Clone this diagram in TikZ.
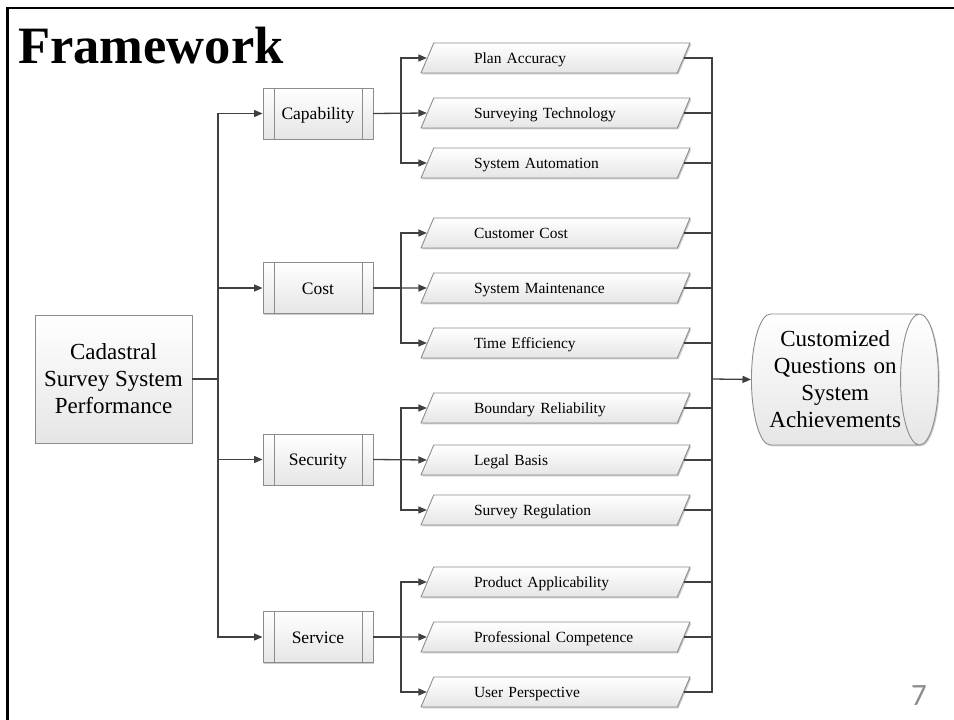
\documentclass[tikz,border=0pt]{standalone}
\usepackage{fontspec}
\setmainfont{Liberation Serif}
\newfontfamily\numfont{Carlito}
\usetikzlibrary{shapes.geometric,arrows.meta,shadows}

\definecolor{wire}{HTML}{404040}
\definecolor{rim}{HTML}{8C8C8C}
\definecolor{pagenum}{HTML}{8C8C8C}

% a centred line of fixed nominal width (longer text overhangs evenly)
\newcommand{\goalline}[1]{\makebox[100pt][c]{#1}}

\begin{document}
\begin{tikzpicture}[x=1pt,y=-1pt,
  shaded/.style={draw=rim, line width=0.9pt, top color=white, bottom color=black!10,
    drop shadow={shadow xshift=1.3pt, shadow yshift=-1.3pt, opacity=0.2, fill=black}},
  rootbox/.style={shaded, minimum width=157, minimum height=128, inner sep=0,
    align=center, font=\fontsize{23}{27}\selectfont},
  groupbox/.style={shaded, minimum width=110, minimum height=51, inner sep=0,
    text height=14, text depth=1.6, font=\fontsize{17.5}{20}\selectfont},
  itembox/.style={shaded, shape=trapezium, trapezium left angle=67, trapezium right angle=113,
    trapezium stretches body, minimum width=269, inner xsep=0, inner ysep=7.5,
    text height=12.5, text depth=2.5,
    text width=163, align=left, font=\fontsize{15.5}{18}\selectfont},
  goalbox/.style={shaded, shape=cylinder, shape border rotate=0, aspect=0.39,
    minimum width=131, minimum height=187, inner sep=0, text width=100, align=center,
    font=\fontsize{23}{27}\selectfont},
  wireline/.style={draw=wire, line width=1.3pt},
  arrowline/.style={wireline, -{Triangle[length=8.5pt,width=7pt]}},
]
\useasboundingbox (0,0) rectangle (954,720);

% slide frame and title
\draw[line width=2.6pt] (7.3,720) -- (7.3,8) -- (954,8);
\node[anchor=base west, inner sep=0, font=\fontsize{52.5}{60}\selectfont\bfseries]
  (title) at (18,63) {Framework};
\node[anchor=base west, inner sep=0, text=pagenum, font=\numfont\fontsize{31}{36}\selectfont]
  (pageno) at (911,705) {7};

% root and goal
\node[rootbox] (main) at (113.5,379) {Cadastral\\Survey System\\Performance};
\node[goalbox, anchor=west] (goal) at (751,379.5)
  {\goalline{Customized}\\\goalline{Questions on}\\\goalline{System}\\\goalline{Achievements}};

% the four groups
\node[groupbox] (cap)  at (318,113.5) {Capability};
\node[groupbox] (cost) at (318,288)   {Cost};
\node[groupbox] (sec)  at (318,459.5) {Security};
\node[groupbox] (srv)  at (318,637)   {Service};
\foreach \g in {cap,cost,sec,srv}{
  \draw[draw=rim, line width=0.9pt] ([xshift=12pt]\g.north west) -- ([xshift=12pt]\g.south west);
  \draw[draw=rim, line width=0.9pt] ([xshift=-11pt]\g.north east) -- ([xshift=-11pt]\g.south east);
}

% indicators
\node[itembox] (pa)  at (555.5,58)  {Plan Accuracy};
\node[itembox] (st)  at (555.5,113) {Surveying Technology};
\node[itembox] (sa)  at (555.5,163) {System Automation};
\node[itembox] (cc)  at (555.5,233) {Customer Cost};
\node[itembox] (sm)  at (555.5,288) {System Maintenance};
\node[itembox] (te)  at (555.5,343) {Time Efficiency};
\node[itembox] (br)  at (555.5,408) {Boundary Reliability};
\node[itembox] (lb)  at (555.5,460) {Legal Basis};
\node[itembox] (sr)  at (555.5,510) {Survey Regulation};
\node[itembox] (pap) at (555.5,582) {Product Applicability};
\node[itembox] (pc)  at (555.5,637) {Professional Competence};
\node[itembox] (up)  at (555.5,692) {User Perspective};

% junction points
\coordinate (lj) at (218,379);
\coordinate (bx) at (401,0);
\coordinate (rj) at (712,379);

% root to groups
\draw[wireline] (main.east) -- (lj);
\foreach \g in {cap,cost,sec,srv}
  \draw[arrowline] (lj) |- (\g.west);

% groups to indicators
\foreach \g/\a/\b/\c in {cap/pa/st/sa, cost/cc/sm/te, sec/br/lb/sr, srv/pap/pc/up}{
  \draw[arrowline] (\g.east) -- (\g.east -| bx) |- (\a.west);
  \draw[arrowline] (\g.east) -- (\b.west);
  \draw[arrowline] (\g.east) -- (\g.east -| bx) |- (\c.west);
}

% indicators to goal
\foreach \i in {pa,st,sa,cc,sm,te,br,lb,sr,pap,pc,up}
  \draw[wireline] (\i.east) -| (rj);
\draw[arrowline] (rj) -- (goal.west);
\end{tikzpicture}
\end{document}
